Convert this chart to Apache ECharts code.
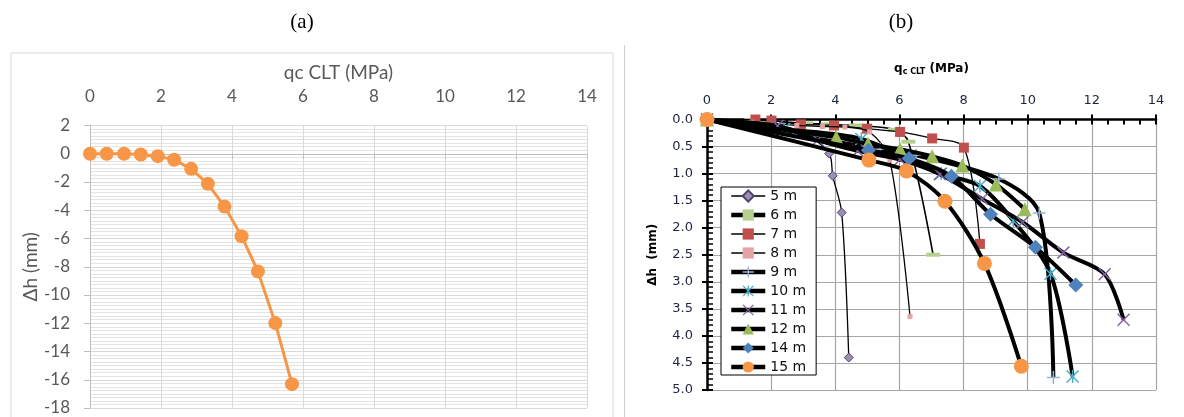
<!DOCTYPE html>
<html><head><meta charset="utf-8">
<script src="https://cdn.jsdelivr.net/npm/echarts@6/dist/echarts.min.js"></script>
<style>html,body{margin:0;padding:0;background:#fff}#c{width:1184px;height:417px}</style>
</head><body><div id="c"></div>
<script>
// ---------- Panel (a) ----------
const qcA = [0, 0.47, 0.96, 1.43, 1.91, 2.37, 2.85, 3.32, 3.79, 4.27, 4.73, 5.22, 5.69];
const dhA = [0, 0, 0, -0.05, -0.17, -0.43, -1.07, -2.13, -3.74, -5.84, -8.33, -11.99, -16.31];

// ---------- Panel (b) ----------
const seriesNames = ['5 m', '6 m', '7 m', '8 m', '9 m', '10 m', '11 m', '12 m', '14 m', '15 m'];
const qc5  = [0, 2.1, 3.0, 3.81, 3.92, 4.20, 4.42];
const dh5  = [0, 0.10, 0.24, 0.63, 1.04, 1.72, 4.40];
const qc6  = [0, 1.38, 3.09, 3.76, 4.64, 5.86, 6.28, 7.05];
const dh6  = [0, 0.01, 0.07, 0.09, 0.11, 0.19, 0.41, 2.50];
const qc7  = [0, 1.51, 2.01, 2.93, 3.96, 4.99, 6.02, 7.02, 8.01, 8.51];
const dh7  = [0, 0.00, 0.02, 0.09, 0.11, 0.17, 0.23, 0.35, 0.52, 2.30];
const qc8  = [0, 1.4, 2.8, 3.6, 4.3, 5.07, 5.7, 6.33];
const dh8  = [0, 0.05, 0.11, 0.13, 0.14, 0.23, 0.75, 3.64];
const qc9  = [0, 2.7, 5.4, 6.52, 9.1, 10.36, 10.8];
const dh9  = [0, 0.28, 0.55, 0.66, 1.10, 1.73, 4.77];
const qc10 = [0, 2.4, 4.81, 7.3, 8.51, 9.55, 10.71, 11.4];
const dh10 = [0, 0.18, 0.36, 1.00, 1.23, 1.87, 2.85, 4.75];
const qc11 = [0, 2.2, 3.45, 4.7, 6.02, 7.26, 8.58, 9.84, 11.11, 12.4, 12.99];
const dh11 = [0, 0.12, 0.38, 0.58, 0.74, 1.01, 1.47, 1.90, 2.46, 2.86, 3.70];
const qc12 = [0, 4.03, 5.02, 6.02, 7.02, 7.96, 9.01, 9.91];
const dh12 = [0, 0.33, 0.45, 0.55, 0.68, 0.85, 1.20, 1.66];
const qc14 = [0, 5.03, 6.3, 7.62, 8.84, 10.24, 11.5];
const dh14 = [0, 0.57, 0.72, 1.05, 1.75, 2.36, 3.06];
const qc15 = [0, 5.05, 6.22, 7.42, 8.65, 9.8];
const dh15 = [0, 0.75, 0.95, 1.51, 2.66, 4.56];

const pairs = (xs, ys) => xs.map((x, i) => [x, ys[i]]);

const PLUS = 'path://M0,4.4H10V5.6H0Z M4.4,0H5.6V10H4.4Z';
const XMARK = 'path://M0.8,0L10,9.2L9.2,10L0,0.8Z M9.2,0L10,0.8L0.8,10L0,9.2Z';
const ASTER = 'path://M0.8,0L10,9.2L9.2,10L0,0.8Z M9.2,0L10,0.8L0.8,10L0,9.2Z M4.45,0H5.55V10H4.45Z';
const DASH = 'path://M0,0H10V3H0Z';

const bStyles = [
  {xs: qc5,  ys: dh5,  w: 1.3, legW: 1.5, symbol: 'diamond', size: 9,  color: '#9C8FB5', border: '#4f4366'},
  {xs: qc6,  ys: dh6,  w: 1.6, legW: 4.5, symbol: DASH, size: [14, 4], color: '#B5D08E', border: null},
  {xs: qc7,  ys: dh7,  w: 1.3, legW: 1.5, symbol: 'rect', size: 10, color: '#C0504D', border: null},
  {xs: qc8,  ys: dh8,  w: 1.3, legW: 1.5, symbol: 'rect', size: 5,  color: '#E6A3A3', border: null},
  {xs: qc9,  ys: dh9,  w: 4,   legW: 4.5, symbol: PLUS,   size: 13, color: '#95B3D7', border: null},
  {xs: qc10, ys: dh10, w: 4,   legW: 4.5, symbol: ASTER,  size: 13, color: '#4BACC6', border: null},
  {xs: qc11, ys: dh11, w: 4,   legW: 4.5, symbol: XMARK,  size: 13, color: '#8064A2', border: null},
  {xs: qc12, ys: dh12, w: 4,   legW: 4.5, symbol: 'triangle', size: 14, color: '#9BBB59', border: null},
  {xs: qc14, ys: dh14, w: 4,   legW: 4.5, symbol: 'diamond', size: 15, color: '#4F81BD', border: null},
  {xs: qc15, ys: dh15, w: 4,   legW: 4.5, symbol: 'circle', size: 15, color: '#F79646', border: null}
];

const bSeries = bStyles.map((s, i) => ({
  name: seriesNames[i],
  type: 'line',
  xAxisIndex: 2, yAxisIndex: 1,
  data: pairs(s.xs, s.ys),
  smooth: 0.3,
  symbol: s.symbol,
  symbolSize: s.size,
  symbolKeepAspect: false,
  lineStyle: {color: '#000', width: s.w},
  itemStyle: {color: s.color, borderColor: s.border || s.color, borderWidth: s.border ? 1 : 0, opacity: 1},
  emphasis: {disabled: true},
  z: 3 + i
}));

const legendData = bStyles.map((s, i) => ({
  name: seriesNames[i],
  lineStyle: {color: '#000', width: s.legW}
}));

const greyA = '#595959';
const labB = '#1e2340';

const chart = echarts.init(document.getElementById('c'), null, {renderer: 'canvas'});
chart.setOption({
  animation: false,
  backgroundColor: '#fff',
  graphic: [
    {type: 'rect', shape: {x: 11, y: 53, width: 602, height: 380}, style: {fill: 'none', stroke: '#d9d9d9', lineWidth: 1}, silent: true},
    {type: 'line', shape: {x1: 624.5, y1: 45, x2: 624.5, y2: 417}, style: {stroke: '#cfcfcf', lineWidth: 1}, silent: true},
    {type: 'text', x: 302, y: 22, style: {text: '(a)', font: '21px "Liberation Serif"', fill: '#000', textAlign: 'center', textVerticalAlign: 'middle'}},
    {type: 'text', x: 901, y: 22, style: {text: '(b)', font: '21px "Liberation Serif"', fill: '#000', textAlign: 'center', textVerticalAlign: 'middle'}}
  ],
  grid: [
    {left: 90, top: 125.5, width: 497, height: 282.5},
    {left: 707, top: 119.5, width: 449, height: 270.5},
    {left: 707, top: 119.5, width: 449, height: 270.5}
  ],
  legend: {
    orient: 'vertical',
    left: 721, top: 187,
    padding: [2, 10, 1, 8],
    itemWidth: 34, itemHeight: 14, itemGap: 5,
    borderColor: '#000', borderWidth: 1,
    backgroundColor: '#fff',
    textStyle: {fontFamily: 'DejaVu Sans', fontSize: 14, color: '#111'},
    data: legendData,
    selectedMode: false
  },
  xAxis: [
    { // (a) labels on top
      type: 'value', gridIndex: 0, min: 0, max: 14, interval: 2, position: 'top',
      name: 'qc CLT (MPa)', nameLocation: 'middle', nameGap: 43,
      nameTextStyle: {fontFamily: 'Lato', fontSize: 19, color: greyA},
      axisLine: {show: false, onZero: false}, axisTick: {show: false},
      axisLabel: {fontFamily: 'Lato', fontSize: 17, color: greyA, margin: 20},
      splitLine: {show: true, lineStyle: {color: '#d9d9d9', width: 1}}
    },
    { // (a) axis line crossing at zero
      type: 'value', gridIndex: 0, min: 0, max: 14, interval: 2, position: 'bottom',
      axisLine: {show: true, onZero: true, lineStyle: {color: '#bfbfbf', width: 1}},
      axisTick: {show: true, length: 5, lineStyle: {color: '#bfbfbf'}},
      axisLabel: {show: false}, splitLine: {show: false}
    },
    { // (b) labels on top, outer ticks
      type: 'value', gridIndex: 1, min: 0, max: 14, interval: 2, position: 'top',
      name: '{q|q}{s|c CLT}{q| (MPa)}', nameLocation: 'middle', nameGap: 44,
      nameTextStyle: {rich: {
        q: {fontFamily: 'DejaVu Sans', fontWeight: 'bold', fontSize: 12, color: '#000'},
        s: {fontFamily: 'DejaVu Sans', fontWeight: 'bold', fontSize: 8, color: '#000', verticalAlign: 'bottom', padding: [5, 0, 0, 0]}
      }},
      axisLine: {show: true, onZero: false, lineStyle: {color: '#000', width: 2.5}},
      axisTick: {show: true, length: 5, lineStyle: {color: '#000', width: 2}},
      axisLabel: {fontFamily: 'DejaVu Sans', fontSize: 13, color: labB, margin: 12},
      splitLine: {show: true, lineStyle: {color: '#a6a6a6', width: 1.2}}
    },
    { // (b) inner ticks + minor (overlay grid)
      type: 'value', gridIndex: 2, min: 0, max: 14, interval: 2, position: 'top',
      axisLine: {show: false, onZero: false},
      axisTick: {show: true, inside: true, length: 5, lineStyle: {color: '#000', width: 2}},
      minorTick: {show: true, splitNumber: 4, length: 5, lineStyle: {color: '#000', width: 2}},
      axisLabel: {show: false}, splitLine: {show: false}
    }
  ],
  yAxis: [
    { // (a)
      type: 'value', gridIndex: 0, min: -18, max: 2, interval: 2,
      name: 'Δh (mm)', nameLocation: 'middle', nameGap: 50, nameRotate: 90,
      nameTextStyle: {fontFamily: 'Lato', fontSize: 19, color: greyA},
      axisLine: {show: true, onZero: false, lineStyle: {color: '#bfbfbf', width: 1}},
      axisTick: {show: true, length: 6, lineStyle: {color: '#bfbfbf'}},
      axisLabel: {fontFamily: 'Lato', fontSize: 17, color: greyA, margin: 20},
      splitLine: {show: true, lineStyle: {color: '#d9d9d9', width: 1}},
      minorTick: {show: false, splitNumber: 8},
      minorSplitLine: {show: true, lineStyle: {color: '#e4e4e4', width: 1}}
    },
    { // (b) labels, outer ticks
      type: 'value', gridIndex: 1, min: 0, max: 5, interval: 0.5, inverse: true, position: 'left',
      name: 'Δh  (mm)', nameLocation: 'middle', nameGap: 48, nameRotate: 90,
      nameTextStyle: {fontFamily: 'DejaVu Sans', fontWeight: 'bold', fontSize: 12, color: '#000'},
      axisLine: {show: true, onZero: false, lineStyle: {color: '#000', width: 2.5}},
      axisTick: {show: true, length: 5, lineStyle: {color: '#000', width: 2}},
      axisLabel: {fontFamily: 'DejaVu Sans', fontSize: 13, color: labB, margin: 14, formatter: v => v.toFixed(1)},
      splitLine: {show: true, lineStyle: {color: '#a6a6a6', width: 1.2}}
    },
    { // (b) inner ticks + minor (overlay grid)
      type: 'value', gridIndex: 2, min: 0, max: 5, interval: 0.5, inverse: true, position: 'left',
      axisLine: {show: false, onZero: false},
      axisTick: {show: true, inside: true, length: 6, lineStyle: {color: '#000', width: 2}},
      minorTick: {show: true, splitNumber: 5, length: 6, lineStyle: {color: '#000', width: 1.5}},
      axisLabel: {show: false}, splitLine: {show: false}
    }
  ],
  series: [
    {
      name: 'a', type: 'line', xAxisIndex: 0, yAxisIndex: 0,
      data: pairs(qcA, dhA),
      symbol: 'circle', symbolSize: 14,
      lineStyle: {color: '#F79646', width: 3},
      itemStyle: {color: '#F79646'},
      emphasis: {disabled: true}, z: 3
    },
    ...bSeries
  ]
});
</script>
</body></html>
